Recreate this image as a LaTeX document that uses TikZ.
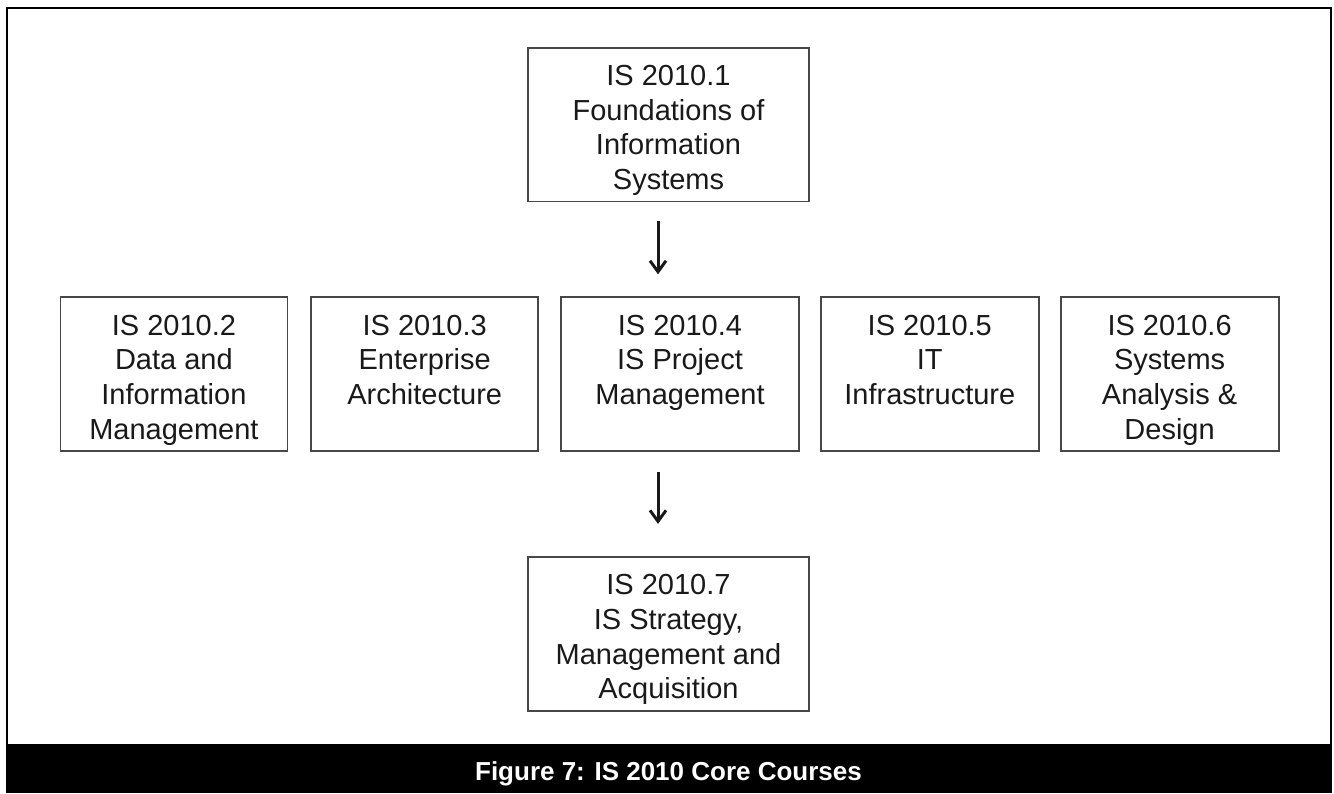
\documentclass[tikz,border=0pt]{standalone}
\usepackage{fontspec}
\setmainfont{Liberation Sans}
\usetikzlibrary{arrows.meta,positioning}
\tikzset{course/.style={draw=black!72,line width=0.9pt,align=center,inner xsep=0pt,inner ysep=4pt,text height=66.9pt,text depth=2pt,text=black!90,font=\fontsize{14.5pt}{17.3pt}\selectfont},threeline/.style={text height=49.6pt,text depth=19.3pt},arrow/.style={-{Straight Barb[length=5.5pt,width=8pt,line width=1.5pt]},line width=1.5pt,draw=black!90}}

\begin{document}
\begin{tikzpicture}[node distance=10.5pt]
\useasboundingbox (0,0) rectangle (667pt,-396.5pt);
\draw[line width=1pt] (3.35pt,-3.75pt) rectangle (665.25pt,-372.5pt);
\fill[black] (2.75pt,-372.5pt) rectangle (665.75pt,-396.5pt);
\node[course,minimum width=140.5pt] (found) at (334.25pt,-62.25pt) {IS 2010.1\\Foundations of\\Information\\Systems};
\node[course,threeline,minimum width=119pt,below=47pt of found,xshift=5.75pt] (proj) {IS 2010.4\\IS Project\\Management};
\node[course,threeline,minimum width=113.5pt,left=of proj] (arch) {IS 2010.3\\Enterprise\\Architecture};
\node[course,minimum width=113.5pt,left=11pt of arch] (data) {IS 2010.2\\Data and\\Information\\Management};
\node[course,threeline,minimum width=109pt,right=10pt of proj] (infra) {IS 2010.5\\IT\\Infrastructure};
\node[course,minimum width=109pt,right=10pt of infra] (sysad) {IS 2010.6\\Systems\\Analysis \&\\Design};
\node[course,minimum width=140.5pt,below=52pt of proj,xshift=-5.75pt] (strat) {IS 2010.7\\IS Strategy,\\Management and\\Acquisition};
\draw[arrow,shorten <=9.5pt,shorten >=11pt] ([xshift=-5.25pt]found.south) -- ([xshift=-5.25pt]found.south |- proj.north);
\draw[arrow,shorten <=10pt,shorten >=16pt] ([xshift=-5.25pt]strat.north |- proj.south) -- ([xshift=-5.25pt]strat.north);
\node[anchor=base,text=white,font=\fontsize{13pt}{15pt}\selectfont\bfseries] (caption) at (334.25pt,-390pt) {Figure 7: IS 2010 Core Courses};
\end{tikzpicture}
\end{document}
